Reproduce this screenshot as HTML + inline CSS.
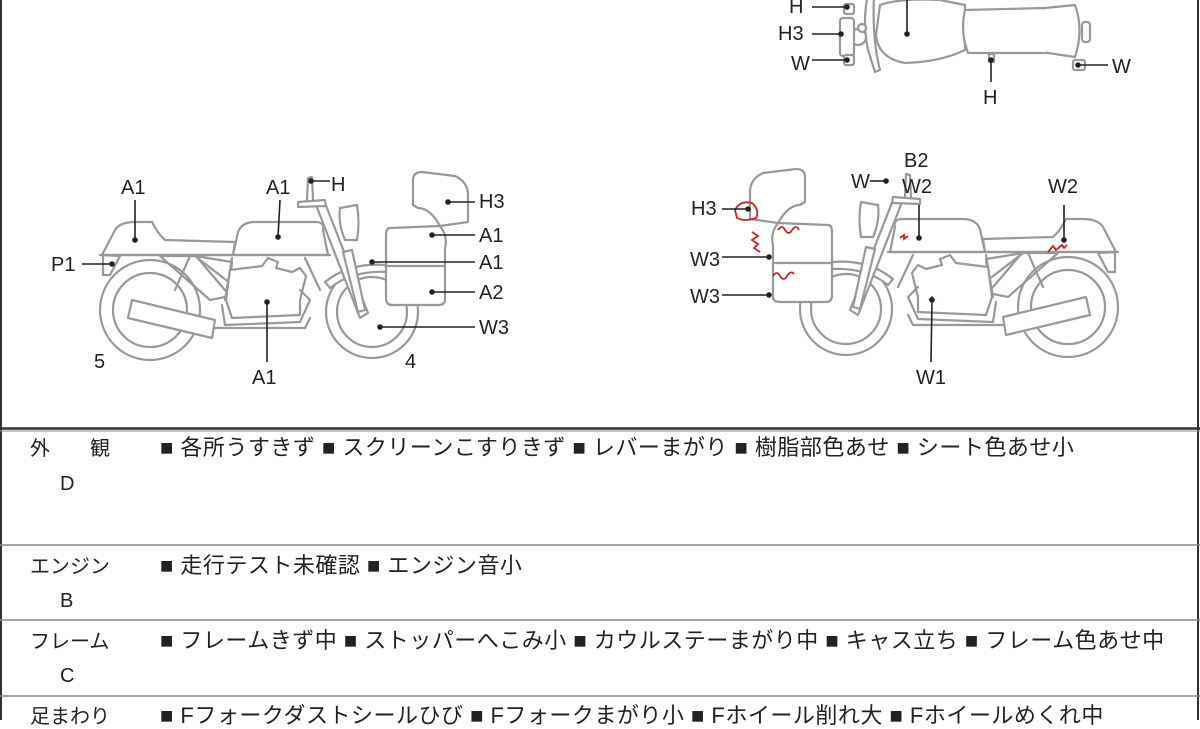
<!DOCTYPE html>
<html><head><meta charset="utf-8">
<style>
html,body{margin:0;padding:0;background:#fff;}
body{width:1200px;height:720px;overflow:hidden;position:relative;font-family:"Liberation Sans","Noto Sans CJK JP",sans-serif;}
svg{position:absolute;left:0;top:0;}
.t{position:absolute;font-size:20px;color:#222;white-space:nowrap;line-height:24px;}
.r{font-size:22px;letter-spacing:0.5px;}
</style></head><body>
<svg width="1200" height="720" viewBox="0 0 1200 720">
<defs>
<g id="bike" fill="#fff" stroke="#999" stroke-width="2.2" stroke-linejoin="round" stroke-linecap="round">
  <circle cx="150" cy="310" r="50"/>
  <circle cx="150" cy="310" r="37"/>
  <circle cx="372" cy="312" r="46"/>
  <circle cx="372" cy="312" r="35"/>
  <path d="M160 256 L210 300 L230 296 L196 256 Z" fill="none"/>
  <path d="M190 256 L175 290 M232 258 L225 300 M305 258 L320 290" fill="none"/>
  <path d="M195 256 L230 283 L232 262 Z" fill="none"/>
  <path d="M226 300 L230 270 L262 266 L268 258 L278 262 L276 268 L292 272 L300 268 L306 276 L300 300 L300 315 L232 318 Z"/>
  <path d="M222 305 L225 325 L300 322 L310 300 L300 290" fill="none"/>
  <path d="M132 300 L215 320 L212 338 L128 318 Z"/>
  <path d="M215 328 L305 328 L310 318" fill="none"/>
  <path d="M102 255 L115 230 Q120 222 135 222 L152 222 Q158 234 165 240 L235 242 L233 255 Z"/>
  <path d="M103 255 L120 256 L110 275 L103 275 Z"/>
  <path d="M233 255 L238 232 Q242 222 255 222 L318 222 Q325 224 323 230 L328 255 Z"/>
  <line x1="100" y1="255" x2="330" y2="255"/>
  <path d="M325 282 Q350 262 385 265 L388 272 Q352 270 330 288 Z"/>
  <path d="M316 205 L325 203 L368 313 L360 318 Z"/>
  <path d="M343 252 L352 250 L365 310 L358 312 Z"/>
  <path d="M340 208 L357 205 Q360 222 357 240 L345 240 Q338 224 340 208 Z"/>
  <path d="M298 202 L325 200 L326 206 L298 207 Z"/>
  <path d="M307 200 L308 178 L312 177 L313 200" fill="none"/>
  <path d="M413 180 Q413 172 422 172 L455 176 Q468 182 468 195 L468 222 L440 226 Q430 208 418 208 L413 205 Z"/>
  <path d="M390 228 L440 226 Q448 236 445 248 L445 300 Q445 305 438 305 L392 305 Q386 305 386 298 L386 235 Q386 228 390 228 Z"/>
  <line x1="386" y1="266" x2="445" y2="266"/>
</g>
</defs>
<use href="#bike"/>
<use href="#bike" transform="translate(1218,-3) scale(-1,1)"/>

<g fill="none" stroke="#c22" stroke-width="1.8">
  <path d="M735 210 Q740 200 752 203 Q760 210 756 218 Q745 222 737 218 Z"/>
  <path d="M752 232 l6 4 -6 4 6 4 -4 4 6 4"/>
  <path d="M778 230 q4 -6 7 0 q4 6 7 0 q4 -6 7 0"/>
  <path d="M773 276 q4 -6 7 0 q4 6 7 0 q4 -6 7 -2"/>
  <path d="M900 238 l4 -3 0 4 4 -3"/>
  <path d="M1048 252 l5 -6 3 4 6 -5 2 3 3 -3"/>
  <path d="M929 300 l3 -3 2 3"/>
</g>

<g fill="#fff" stroke="#999" stroke-width="2.2" stroke-linejoin="round">
  <path d="M868 -5 Q862 20 868 50 L875 72 L880 70 Q872 40 874 -5 Z"/>
  <path d="M880 5 Q900 -2 940 0 L965 5 L965 50 Q940 62 905 63 Q878 58 876 35 Z"/>
  <path d="M965 10 L1045 8 Q1058 30 1048 53 L968 53 Q960 32 965 10 Z"/>
  <path d="M1045 8 L1075 5 Q1084 30 1075 57 L1048 53"/>
  <rect x="1082" y="22" width="8" height="20" rx="3"/>
  <circle cx="858" cy="37" r="8"/><circle cx="862" cy="28" r="4"/>
  <rect x="840" y="18" width="14" height="38" rx="3"/>
  <rect x="844" y="4" width="10" height="10" rx="2"/>
  <rect x="844" y="55" width="10" height="10" rx="2"/>
  <rect x="1073" y="60" width="12" height="10" rx="2"/>
  <rect x="989" y="54" width="5" height="8"/>
</g>

<g stroke="#222" stroke-width="1.6" fill="#222">
  <line x1="812" y1="7" x2="847" y2="7"/><circle cx="847" cy="7" r="2"/>
  <line x1="812" y1="34" x2="841" y2="34"/><circle cx="841" cy="34" r="2"/>
  <line x1="812" y1="60" x2="847" y2="60"/><circle cx="847" cy="60" r="2"/>
  <line x1="907" y1="0" x2="907" y2="34"/><circle cx="907" cy="34" r="2"/>
  <line x1="1108" y1="65" x2="1078" y2="65"/><circle cx="1078" cy="65" r="2"/>
  <line x1="991" y1="82" x2="991" y2="60"/><circle cx="991" cy="60" r="2"/>
  <line x1="135" y1="200" x2="135" y2="240"/><circle cx="135" cy="240" r="2"/>
  <line x1="280" y1="200" x2="278" y2="237"/><circle cx="278" cy="237" r="2"/>
  <line x1="82" y1="264" x2="112" y2="264"/><circle cx="112" cy="264" r="2"/>
  <line x1="313" y1="181" x2="330" y2="181"/><circle cx="311" cy="181" r="2"/>
  <line x1="475" y1="202" x2="448" y2="202"/><circle cx="448" cy="202" r="2"/>
  <line x1="475" y1="235" x2="432" y2="235"/><circle cx="432" cy="235" r="2"/>
  <line x1="475" y1="262" x2="372" y2="262"/><circle cx="372" cy="262" r="2"/>
  <line x1="475" y1="292" x2="432" y2="292"/><circle cx="432" cy="292" r="2"/>
  <line x1="475" y1="327" x2="380" y2="327"/><circle cx="380" cy="327" r="2"/>
  <line x1="267" y1="362" x2="267" y2="302"/><circle cx="267" cy="302" r="2"/>
  <line x1="722" y1="209" x2="748" y2="209"/><circle cx="748" cy="209" r="2"/>
  <line x1="722" y1="257" x2="769" y2="257"/><circle cx="769" cy="257" r="2"/>
  <line x1="722" y1="295" x2="769" y2="295"/><circle cx="769" cy="295" r="2"/>
  <line x1="870" y1="181" x2="886" y2="181"/><circle cx="886" cy="181" r="2"/>
  <line x1="919" y1="205" x2="919" y2="238"/><circle cx="919" cy="238" r="2"/>
  <line x1="1064" y1="205" x2="1064" y2="240"/><circle cx="1064" cy="240" r="2"/>
  <line x1="931" y1="362" x2="932" y2="300"/><circle cx="932" cy="300" r="2"/>
</g>

<g stroke="#333" fill="none">
  <line x1="1" y1="0" x2="1" y2="720" stroke-width="2"/>
  <line x1="1198" y1="0" x2="1198" y2="720" stroke-width="2"/>
  <line x1="0" y1="428.5" x2="1200" y2="428.5" stroke-width="2.5"/>
  <line x1="0" y1="431" x2="1200" y2="431" stroke-width="1" stroke="#888"/>
  <line x1="0" y1="545" x2="1200" y2="545" stroke-width="1.5" stroke="#888"/>
  <line x1="0" y1="620" x2="1200" y2="620" stroke-width="1.5" stroke="#888"/>
  <line x1="0" y1="696" x2="1200" y2="696" stroke-width="1.5" stroke="#888"/>
</g>
</svg>

<div class="t" style="left:789px;top:-5px">H</div>
<div class="t" style="left:778px;top:22px">H3</div>
<div class="t" style="left:791px;top:52px">W</div>
<div class="t" style="left:1112px;top:55px">W</div>
<div class="t" style="left:983px;top:86px">H</div>

<div class="t" style="left:121px;top:176px">A1</div>
<div class="t" style="left:266px;top:176px">A1</div>
<div class="t" style="left:51px;top:253px">P1</div>
<div class="t" style="left:331px;top:173px">H</div>
<div class="t" style="left:479px;top:190px">H3</div>
<div class="t" style="left:479px;top:224px">A1</div>
<div class="t" style="left:479px;top:251px">A1</div>
<div class="t" style="left:479px;top:281px">A2</div>
<div class="t" style="left:479px;top:316px">W3</div>
<div class="t" style="left:94px;top:350px">5</div>
<div class="t" style="left:405px;top:350px">4</div>
<div class="t" style="left:252px;top:366px">A1</div>

<div class="t" style="left:691px;top:197px">H3</div>
<div class="t" style="left:690px;top:248px">W3</div>
<div class="t" style="left:690px;top:285px">W3</div>
<div class="t" style="left:851px;top:170px">W</div>
<div class="t" style="left:904px;top:149px">B2</div>
<div class="t" style="left:902px;top:175px">W2</div>
<div class="t" style="left:1048px;top:175px">W2</div>
<div class="t" style="left:916px;top:366px">W1</div>

<div class="t" style="left:30px;top:437px">外　　観</div>
<div class="t" style="left:60px;top:472px">D</div>
<div class="t r" style="left:160px;top:436px">■ 各所うすきず ■ スクリーンこすりきず ■ レバーまがり ■ 樹脂部色あせ ■ シート色あせ小</div>
<div class="t" style="left:30px;top:555px">エンジン</div>
<div class="t" style="left:60px;top:589px">B</div>
<div class="t r" style="left:160px;top:554px">■ 走行テスト未確認 ■ エンジン音小</div>
<div class="t" style="left:30px;top:630px">フレーム</div>
<div class="t" style="left:60px;top:664px">C</div>
<div class="t r" style="left:160px;top:629px">■ フレームきず中 ■ ストッパーへこみ小 ■ カウルステーまがり中 ■ キャス立ち ■ フレーム色あせ中</div>
<div class="t" style="left:30px;top:705px">足まわり</div>
<div class="t r" style="left:160px;top:704px">■ Fフォークダストシールひび ■ Fフォークまがり小 ■ Fホイール削れ大 ■ Fホイールめくれ中</div>
</body></html>
